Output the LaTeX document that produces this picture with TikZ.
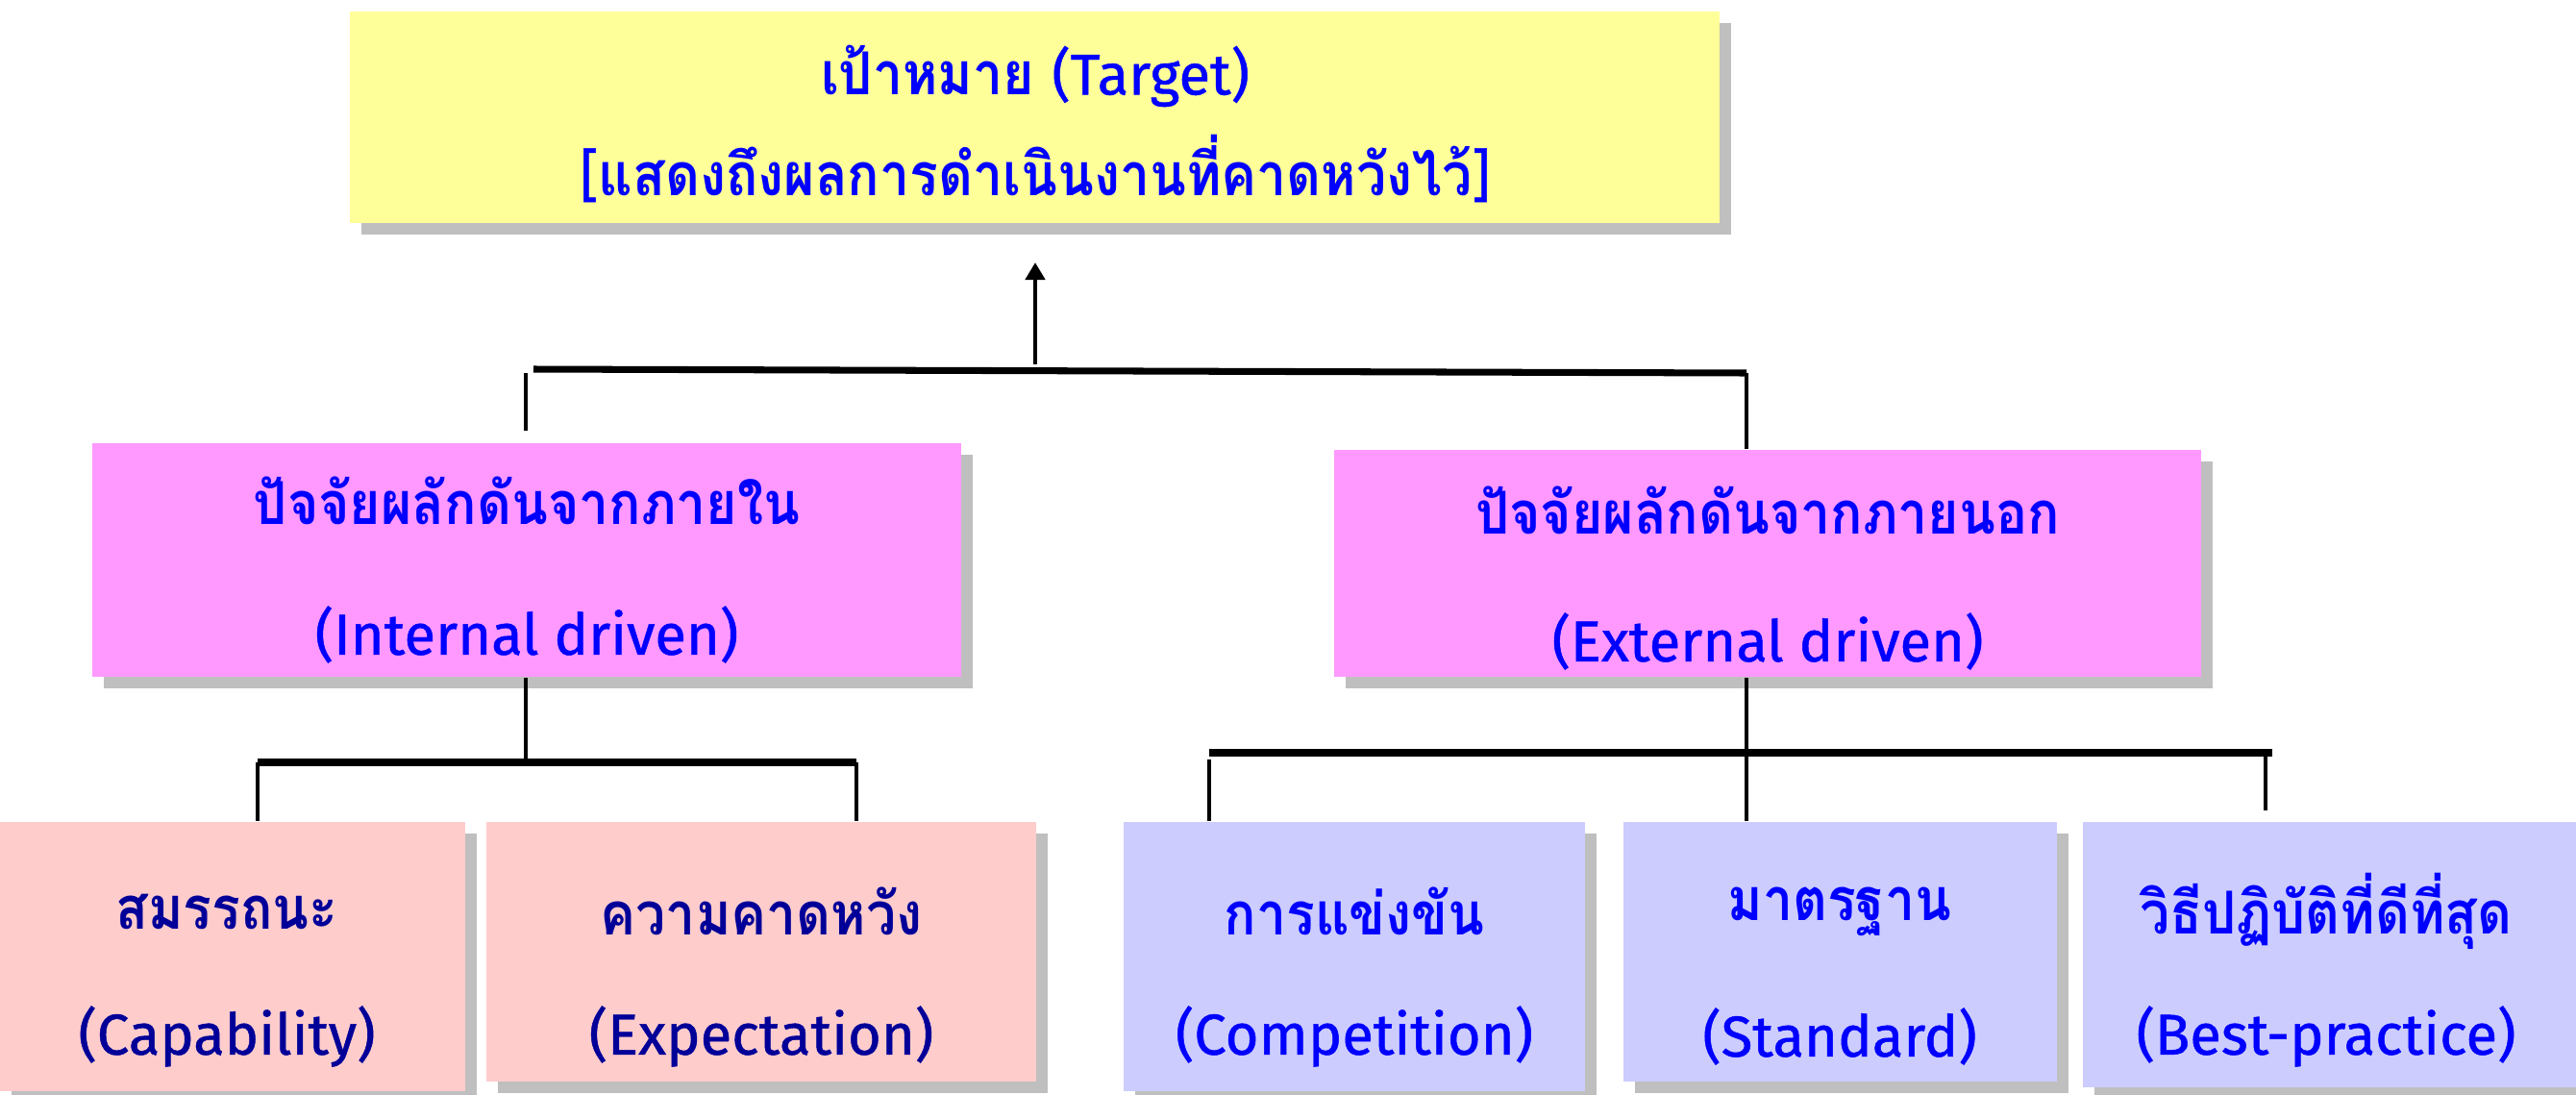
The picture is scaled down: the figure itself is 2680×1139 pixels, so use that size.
\documentclass[tikz,border=0pt]{standalone}
\usepackage{fontspec}
\newfontfamily\thaifont[Script=Thai,FakeStretch=0.9]{Loma}
\newfontfamily\latfont[FakeBold=0.8]{Fira Sans}
\usetikzlibrary{arrows.meta,shadows}
\definecolor{cyellow}{HTML}{FFFF99}
\definecolor{cmagenta}{HTML}{FF99FF}
\definecolor{cpink}{HTML}{FFCCCC}
\definecolor{clav}{HTML}{CCCCFF}
\definecolor{cshadow}{HTML}{BFBFBF}
\definecolor{cblue}{HTML}{0000FF}
\definecolor{cnavy}{HTML}{000099}
\newcommand{\thtxt}[1]{{\thaifont\bfseries #1}}
\newcommand{\latxt}[1]{{\latfont\fontsize{17}{20}\selectfont #1}}
\begin{document}
\begin{tikzpicture}[x=0.01cm,y=-0.01cm,
  box/.style={draw=none, inner sep=0pt,
    drop shadow={shadow xshift=0.12cm, shadow yshift=-0.12cm, fill=cshadow, opacity=1}},
  txt/.style={font=\fontsize{17.5}{20}\selectfont, text=cblue, inner sep=0pt},
  ntxt/.style={txt, text=cnavy},
  conn/.style={line width=1.3pt},
  bar/.style={line width=2pt}]
\useasboundingbox[fill=white] (0,0) rectangle (2680,1139);

% boxes
\node[box, fill=cyellow, minimum width=14.25cm, minimum height=2.2cm] (target) at (1076.5,122) {};
\node[box, fill=cmagenta, minimum width=9.04cm, minimum height=2.43cm] (int) at (548,582.5) {};
\node[box, fill=cmagenta, minimum width=9.02cm, minimum height=2.36cm] (ext) at (1839,586) {};
\node[box, fill=cpink, minimum width=4.84cm, minimum height=2.80cm] (cap) at (242,995) {};
\node[box, fill=cpink, minimum width=5.72cm, minimum height=2.70cm] (exp) at (792,990) {};
\node[box, fill=clav, minimum width=4.80cm, minimum height=2.80cm] (comp) at (1409,995) {};
\node[box, fill=clav, minimum width=4.51cm, minimum height=2.70cm] (std) at (1914.5,990) {};
\node[box, fill=clav, minimum width=5.13cm, minimum height=2.76cm] (best) at (2423.5,993) {};

% texts
\node[txt] (targetA) at (1077,79) {\thtxt{เป้าหมาย} \latxt{(Target)}};
\node[txt] (targetB) at (1077,175) {\latxt{[}\thtxt{แสดงถึงผลการดำเนินงานที่คาดหวังไว้}\latxt{]}};
\node[txt] (intA) at (548,521) {\thtxt{ปัจจัยผลักดันจากภายใน}};
\node[txt] (intB) at (548,660) {\latxt{(Internal driven)}};
\node[txt] (extA) at (1839,531) {\thtxt{ปัจจัยผลักดันจากภายนอก}};
\node[txt] (extB) at (1839,667) {\latxt{(External driven)}};
\node[ntxt] (capA) at (236,948) {\thtxt{สมรรถนะ}};
\node[ntxt] (capB) at (236,1078) {\latxt{(Capability)}};
\node[ntxt] (expA) at (792,948) {\thtxt{ความคาดหวัง}};
\node[ntxt] (expB) at (792,1078) {\latxt{(Expectation)}};
\node[txt] (compA) at (1409,948) {\thtxt{การแข่งขัน}};
\node[txt] (compB) at (1409,1078) {\latxt{(Competition)}};
\node[txt] (stdA) at (1914,948) {\thtxt{มาตรฐาน}};
\node[txt] (stdB) at (1914,1078) {\latxt{(Standard)}};
\node[txt] (bestA) at (2420,948) {\thtxt{วิธีปฏิบัติที่ดีที่สุด}};
\node[txt] (bestB) at (2420,1078) {\latxt{(Best-practice)}};

% top connectors
\coordinate (arrowbase) at (1077,379);
\coordinate (arrowtip) at (1077,273);
\draw[conn,-{Triangle[width=0.2cm,length=0.18cm]}] (arrowbase) -- (arrowtip);
\coordinate (tbL) at (555,384);
\coordinate (tbR) at (1817,388);
\draw[bar] (tbL) -- (tbR);
\draw[conn] (tbR) -- (tbR |- ext.north);
\coordinate (lvTop) at (547,388);
\coordinate (lvBot) at (547,448);
\draw[conn] (lvTop) -- (lvBot);

% internal branch
\coordinate (ib) at (547,793);
\coordinate (ibL) at (268,793);
\coordinate (ibR) at (891,793);
\draw[conn] (ib |- int.south) -- (ib);
\draw[bar] (ibL) -- (ibR);
\draw[conn] (ibL) -- (ibL |- cap.north);
\draw[conn] (ibR) -- (ibR |- exp.north);

% external branch
\coordinate (eb) at (1817,783);
\coordinate (ebL) at (1258,783);
\coordinate (ebR) at (2364,783);
\draw[conn] (eb |- ext.south) -- (eb |- std.north);
\draw[bar] (ebL) -- (ebR);
\coordinate (clTop) at (1258,790);
\draw[conn] (clTop) -- (clTop |- comp.north);
\coordinate (crTop) at (2357,786);
\coordinate (crBot) at (2357,843);
\draw[conn] (crTop) -- (crBot);
\end{tikzpicture}
\end{document}
